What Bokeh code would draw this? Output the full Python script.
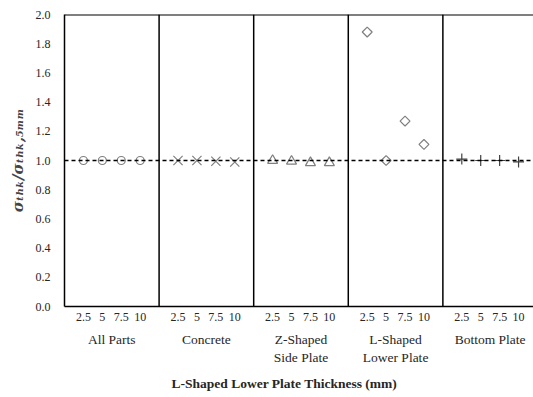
from bokeh.plotting import figure
from bokeh.models import (FixedTicker, LinearAxis, Span, Title, PrintfTickFormatter, Range1d)
from bokeh.embed import file_html
from bokeh.resources import INLINE
import math

# ---- data ----
thickness_labels = ["2.5", "5", "7.5", "10"]
groups = ["All Parts", "Concrete", "Z-Shaped\nSide Plate", "L-Shaped\nLower Plate", "Bottom Plate"]
all_parts = [1.0, 1.0, 1.0, 1.0]
concrete = [1.0, 1.0, 0.995, 0.99]
z_side_plate = [1.0, 0.995, 0.985, 0.985]
l_lower_plate = [1.88, 1.0, 1.27, 1.11]
bottom_plate = [1.01, 1.0, 1.0, 0.99]
y_ticks = [0.0, 0.2, 0.4, 0.6, 0.8, 1.0, 1.2, 1.4, 1.6, 1.8, 2.0]

slot = len(thickness_labels) + 1

def xs(g):
    return [g * slot + i + 1 for i in range(len(thickness_labels))]

SERIF = "Liberation Serif"
GRAY = "#7f7f7f"
TXT = "#262626"

p = figure(width=533, height=397, output_backend="svg", toolbar_location=None,
           x_range=Range1d(0, 24.79), y_range=Range1d(0, 2.0),
           min_border_left=64, min_border_right=0, min_border_top=14, min_border_bottom=91)
p.outline_line_color = None
p.background_fill_color = "white"
p.border_fill_color = "white"
p.xgrid.visible = False
p.ygrid.visible = False

# y axis
ya = p.yaxis[0]
ya.ticker = FixedTicker(ticks=y_ticks)
ya.formatter = PrintfTickFormatter(format="%.1f")
ya.major_tick_out = 0
ya.major_tick_in = 0
ya.minor_tick_out = 0
ya.minor_tick_in = 0
ya.axis_line_color = "black"
ya.axis_line_width = 1.5
ya.major_label_text_font = SERIF
ya.major_label_text_font_size = "12px"
ya.major_label_text_color = TXT
ya.major_label_standoff = 14
ya.axis_label = "σₜₕₖ/σₜₕₖ,₅ₘₘ"
ya.axis_label_text_font = "DejaVu Serif"
ya.axis_label_text_font_style = "bold italic"
ya.axis_label_text_font_size = "15px"
ya.axis_label_standoff = 6

# x axis: thickness ticks
xa = p.xaxis[0]
ticks = []
overrides = {}
for g in range(len(groups)):
    for i, x in enumerate(xs(g)):
        ticks.append(x)
        overrides[x] = thickness_labels[i]
xa.ticker = FixedTicker(ticks=ticks)
xa.major_label_overrides = overrides
xa.major_tick_out = 0
xa.major_tick_in = 0
xa.minor_tick_out = 0
xa.minor_tick_in = 0
xa.axis_line_color = "black"
xa.axis_line_width = 1.5
xa.major_label_text_font = SERIF
xa.major_label_text_font_size = "12px"
xa.major_label_text_color = TXT
xa.major_label_standoff = 6

# second x axis: group names
centers = [g * slot + slot / 2 for g in range(len(groups))]
xa2 = LinearAxis(ticker=FixedTicker(ticks=centers),
                 major_label_overrides={c: n for c, n in zip(centers, groups)})
xa2.axis_line_color = None
xa2.major_tick_out = 0
xa2.major_tick_in = 0
xa2.minor_tick_out = 0
xa2.minor_tick_in = 0
xa2.major_label_text_font = SERIF
xa2.major_label_text_font_size = "13.5px"
xa2.major_label_text_color = TXT
xa2.major_label_standoff = 8
p.add_layout(xa2, "below")

# x axis title
p.add_layout(Title(text="L-Shaped Lower Plate Thickness (mm)", align="left", offset=107,
                   text_font=SERIF, text_font_style="bold", text_font_size="13.5px",
                   text_color=TXT, standoff=12), "below")

# frame pieces
p.add_layout(Span(location=2.0, dimension="width", line_color="black", line_width=2))
for g in range(1, len(groups)):
    p.add_layout(Span(location=g * slot, dimension="height", line_color="black", line_width=1.5))
p.add_layout(Span(location=1.0, dimension="width", line_color="black", line_width=1.3, line_dash="4 3"))

# markers
p.scatter(xs(0), all_parts, marker="circle", size=8, fill_color=None, line_color=GRAY, line_width=1.2)
p.scatter(xs(1), concrete, marker="x", size=13, line_color=GRAY, line_width=1.2)
p.scatter(xs(2), z_side_plate, marker="triangle", size=10, fill_color=None, line_color=GRAY, line_width=1.2)
p.scatter(xs(3), l_lower_plate, marker="square", size=7, angle=math.pi / 4,
          fill_color=None, line_color=GRAY, line_width=1.2)
p.scatter(xs(4), bottom_plate, marker="cross", size=11, line_color="#404040", line_width=1.2)

open("out.html", "w").write(file_html(p, INLINE))
